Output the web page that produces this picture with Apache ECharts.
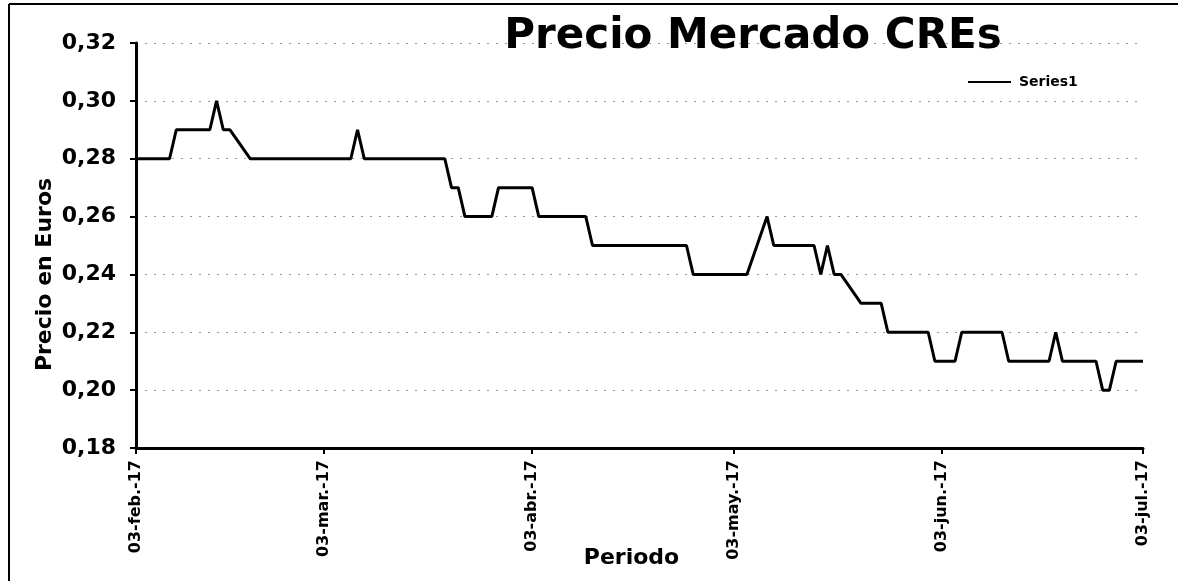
<!DOCTYPE html>
<html>
<head>
<meta charset="utf-8">
<script src="https://cdn.jsdelivr.net/npm/echarts@6/dist/echarts.min.js"></script>
<style>
html,body{margin:0;padding:0;background:#fff;}
#chart{width:1178px;height:581px;}
</style>
</head>
<body>
<div id="chart"></div>
<script>
const dates = ['2017-02-03','2017-02-08','2017-02-09','2017-02-14','2017-02-15','2017-02-16','2017-02-17','2017-02-20',
  '2017-03-07','2017-03-08','2017-03-09','2017-03-21','2017-03-22','2017-03-23','2017-03-24','2017-03-28','2017-03-29',
  '2017-04-03','2017-04-04','2017-04-11','2017-04-12','2017-04-26','2017-04-27',
  '2017-05-05','2017-05-08','2017-05-09','2017-05-15','2017-05-16','2017-05-17','2017-05-18','2017-05-19','2017-05-22','2017-05-25','2017-05-26',
  '2017-06-01','2017-06-02','2017-06-05','2017-06-06','2017-06-12','2017-06-13','2017-06-19','2017-06-20','2017-06-21','2017-06-26','2017-06-27','2017-06-28','2017-06-29',
  '2017-07-03'];
const prices = [0.28,0.28,0.29,0.29,0.30,0.29,0.29,0.28,
  0.28,0.29,0.28,0.28,0.27,0.27,0.26,0.26,0.27,
  0.27,0.26,0.26,0.25,0.25,0.24,
  0.24,0.26,0.25,0.25,0.24,0.25,0.24,0.24,0.23,0.23,0.22,
  0.22,0.21,0.21,0.22,0.22,0.21,0.21,0.22,0.21,0.21,0.20,0.20,0.21,
  0.21];
const tickDates = ['2017-02-03','2017-03-03','2017-04-03','2017-05-03','2017-06-03','2017-07-03'];
const tickLabels = ['03-feb.-17','03-mar.-17','03-abr.-17','03-may.-17','03-jun.-17','03-jul.-17'];
const yTicks = ['0,18','0,20','0,22','0,24','0,26','0,28','0,30','0,32'];
const seriesName = 'Series1';
const titleText = 'Precio Mercado CREs';
const xName = 'Periodo';
const yName = 'Precio en Euros';

const DAY = 86400000;
function dayNum(s){const p=s.split('-');return Math.round(Date.UTC(+p[0],+p[1]-1,+p[2])/DAY);}
const tickDays = tickDates.map(dayNum);
const data = dates.map((d,i)=>[dayNum(d),prices[i]]);
const F = 'DejaVu Sans';

const chart = echarts.init(document.getElementById('chart'));
chart.setOption({
  animation:false,
  backgroundColor:'#fff',
  title:{text:titleText,left:748,textAlign:'center',top:11,
    textStyle:{fontFamily:F,fontWeight:'bold',fontSize:42,color:'#000'}},
  legend:{data:[seriesName],left:963,top:70,icon:'rect',itemWidth:43,itemHeight:2,itemGap:8,
    textStyle:{fontFamily:F,fontWeight:'bold',fontSize:14,color:'#000',padding:[0,0,0,3]}},
  grid:{left:136,right:35,top:43,bottom:133,containLabel:false,outerBoundsMode:'none'},
  xAxis:{type:'value',min:tickDays[0],max:tickDays[tickDays.length-1],
    name:xName,nameLocation:'middle',nameGap:99,nameMoveOverlap:false,
    nameTextStyle:{fontFamily:F,fontWeight:'bold',fontSize:22,color:'#000',padding:[0,16,0,0]},
    axisLine:{show:true,lineStyle:{color:'#000',width:3}},
    axisTick:{show:true,customValues:tickDays,length:6,lineStyle:{color:'#000',width:2}},
    axisLabel:{customValues:tickDays,rotate:90,margin:12,
      formatter:(v)=>{const k=tickDays.indexOf(v);return k>=0?tickLabels[k]:'';},
      fontFamily:F,fontWeight:'bold',fontSize:16,color:'#000'},
    splitLine:{show:false}},
  yAxis:{type:'value',min:0.18,max:0.32,interval:0.02,
    name:yName,nameLocation:'middle',nameGap:80,nameMoveOverlap:false,
    nameTextStyle:{fontFamily:F,fontWeight:'bold',fontSize:22,color:'#000',padding:[0,58,0,0]},
    axisLine:{show:true,lineStyle:{color:'#000',width:3}},
    axisTick:{show:true,length:6,lineStyle:{color:'#000',width:2}},
    axisLabel:{margin:20,fontFamily:F,fontWeight:'bold',fontSize:22,color:'#000',
      formatter:(v)=>yTicks[Math.round((v-0.18)/0.02)]},
    splitLine:{show:true,lineStyle:{color:'#999',width:1,type:[2,7]}}},
  graphic:[
    {type:'line',silent:true,shape:{x1:9,y1:4,x2:1178,y2:4},style:{stroke:'#000',lineWidth:2}},
    {type:'line',silent:true,shape:{x1:9,y1:4,x2:9,y2:581},style:{stroke:'#000',lineWidth:2}}
  ],
  series:[{name:seriesName,type:'line',data:data,symbol:'none',showSymbol:false,
    lineStyle:{color:'#000',width:3},itemStyle:{color:'#000'}}]
});
</script>
</body>
</html>
